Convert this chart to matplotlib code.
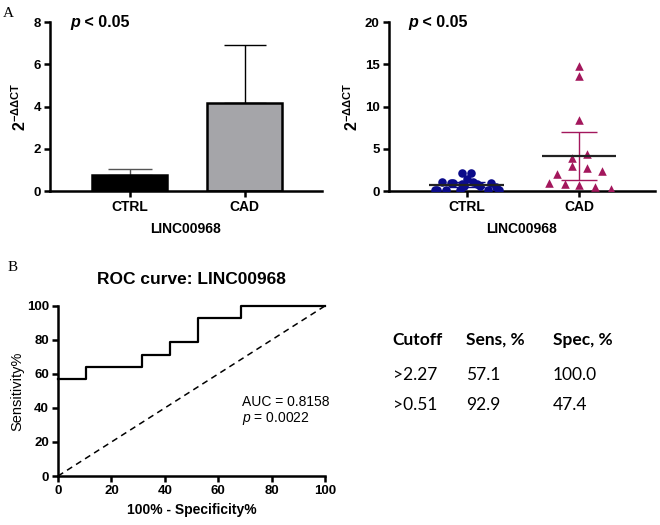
import numpy as np
import matplotlib
matplotlib.use('Agg')
from matplotlib import pyplot as plt

plt.rcParams['font.family'] = ['Liberation Sans', 'DejaVu Sans']
plt.rcParams['mathtext.fontset'] = 'custom'
plt.rcParams['mathtext.rm'] = 'Liberation Sans'
plt.rcParams['mathtext.it'] = 'Liberation Sans:italic'
plt.rcParams['mathtext.bf'] = 'Liberation Sans:bold'

# data
groups = ['CTRL', 'CAD']
bar_means = [0.75, 4.15]
bar_err = [0.3, 2.75]

ctrl_vals = [0.1, 0.1, 1.1, 0.1, 1.0, 0.9, 0.15, 0.8, 2.1, 0.6, 1.4, 2.1, 1.1, 0.8, 0.6, 0.1, 0.9, 0.5, 0.1]
ctrl_spread = [-0.28, -0.26, -0.22, -0.18, -0.14, -0.12, -0.06, -0.04, -0.04, -0.02, 0.0, 0.04, 0.06, 0.09, 0.12, 0.19, 0.22, 0.26, 0.29]
cad_vals = [14.8, 13.6, 8.4, 3.9, 4.4, 3.0, 2.7, 2.4, 2.0, 0.9, 0.8, 0.7, 0.5, 0.3]
cad_spread = [0.0, 0.0, 0.0, -0.06, 0.07, -0.06, 0.07, 0.2, -0.2, -0.27, -0.13, 0.0, 0.14, 0.28]
dot_means = [0.75, 4.15]
dot_err = [0.3, 2.8]

roc_fpr = [0, 10.5, 10.5, 31.6, 31.6, 42.1, 42.1, 52.6, 52.6, 68.4, 68.4, 100]
roc_tpr = [57.1, 57.1, 64.3, 64.3, 71.4, 71.4, 78.6, 78.6, 92.9, 92.9, 100, 100]
auc_txt = 'AUC = 0.8158'
p_txt = '0.0022'

table_head = ['Cutoff', 'Sens, %', 'Spec, %']
table_rows = [['>2.27', '57.1', '100.0'], ['>0.51', '92.9', '47.4']]

LW = 1.8
navy = '#0b0b8a'
berry = '#a3175c'


def style_axes(ax):
    for s in ['top', 'right']:
        ax.spines[s].set_visible(False)
    for s in ['left', 'bottom']:
        ax.spines[s].set_linewidth(LW)
    ax.tick_params(width=LW, length=4.5, labelsize=9.5, pad=2)
    for lab in ax.get_xticklabels() + ax.get_yticklabels():
        lab.set_fontweight('bold')


def p_label(ax):
    t = ax.text(0.074, 1.0, 'p', transform=ax.transAxes, fontsize=11.5,
                fontweight='bold', style='italic', va='center', ha='left')
    ax.annotate(' < 0.05', xy=(1, 0), xycoords=t, va='bottom', ha='left',
                fontsize=11.5, fontweight='bold')


fig = plt.figure(figsize=(6.6, 5.25), dpi=100)

# A left: bars
ax1 = fig.add_axes([0.0758, 0.636, 0.412, 0.322])
x = np.arange(len(groups))
ax1.bar(x, bar_means, width=0.65, color=['black', '#a5a5a9'], edgecolor='black', linewidth=LW, zorder=2)
ax1.errorbar(x[0], bar_means[0], yerr=[[0], [bar_err[0]]], fmt='none', ecolor='#555555',
             elinewidth=1.0, capsize=16, capthick=1.0, zorder=1)
ax1.errorbar(x[1], bar_means[1], yerr=[[0], [bar_err[1]]], fmt='none', ecolor='black',
             elinewidth=1.0, capsize=15, capthick=1.0, zorder=1)
ax1.set_xlim(-0.69, 1.67)
ax1.set_ylim(0, 8)
ax1.set_yticks([0, 2, 4, 6, 8])
ax1.set_xticks(x)
ax1.set_xticklabels(groups)
ax1.set_ylabel(r'$\mathbf{2^{-\Delta\Delta CT}}$', fontsize=11.5, labelpad=3)
ax1.set_xlabel('LINC00968', fontsize=10, fontweight='bold', labelpad=6)
style_axes(ax1)
for lab in ax1.get_xticklabels():
    lab.set_fontsize(10)
p_label(ax1)

# A right: dots
ax2 = fig.add_axes([0.589, 0.636, 0.403, 0.322])
ax2.scatter(x[0] + np.array(ctrl_spread), ctrl_vals, s=38, marker='o', color=navy, zorder=3, linewidths=0)
ax2.scatter(x[1] + np.array(cad_spread), cad_vals, s=38, marker='^', color=berry, zorder=3, linewidths=0)
for xi, m, e, c in zip(x, dot_means, dot_err, [navy, berry]):
    ax2.errorbar(xi, m, yerr=e, fmt='none', ecolor=c, elinewidth=1.0,
                 capsize=13, capthick=1.0, zorder=2)
ax2.hlines(dot_means, x - 0.33, x + 0.33, color='#222222', linewidth=1.6, zorder=4)
ax2.set_xlim(-0.69, 1.67)
ax2.set_ylim(0, 20)
ax2.set_yticks([0, 5, 10, 15, 20])
ax2.set_xticks(x)
ax2.set_xticklabels(groups)
ax2.set_ylabel(r'$\mathbf{2^{-\Delta\Delta CT}}$', fontsize=11.5, labelpad=3)
ax2.set_xlabel('LINC00968', fontsize=10, fontweight='bold', labelpad=6)
style_axes(ax2)
for lab in ax2.get_xticklabels():
    lab.set_fontsize(10)
p_label(ax2)

# B: ROC
ax3 = fig.add_axes([0.0879, 0.0933, 0.4045, 0.324])
ax3.plot(roc_fpr, roc_tpr, color='black', linewidth=1.6, clip_on=False, zorder=3)
ax3.plot([0, 100], [0, 100], color='black', linewidth=1.1, linestyle=(0, (4, 3)), zorder=2)
ax3.set_xlim(0, 100)
ax3.set_ylim(0, 100)
ax3.set_xticks(range(0, 101, 20))
ax3.set_yticks(range(0, 101, 20))
ax3.set_title('ROC curve: LINC00968', fontsize=12.5, fontweight='bold', pad=16)
ax3.set_xlabel('100% - Specificity%', fontsize=10, fontweight='bold', labelpad=4)
ax3.set_ylabel('Sensitivity%', fontsize=10.5, labelpad=2)
style_axes(ax3)
ax3.text(0.69, 0.38, auc_txt + '\n' + r'$p$ = ' + p_txt, transform=ax3.transAxes,
         fontsize=10, va='center', ha='left', linespacing=1.1)

# panel letters
fig.text(0.005, 0.975, 'A', family='Liberation Serif', fontsize=11, va='center')
fig.text(0.012, 0.49, 'B', family='Liberation Serif', fontsize=11, va='center')

# cutoff table
col_x = [0.595, 0.706, 0.838]
row_y = [0.353, 0.285, 0.228]
for cx, h in zip(col_x, table_head):
    fig.text(cx, row_y[0], h, family='Lato', fontweight='bold', fontsize=12.5, va='center')
for ry, row in zip(row_y[1:], table_rows):
    for cx, v in zip(col_x, row):
        fig.text(cx, ry, v, family='Lato', fontsize=12.5, va='center')

fig.savefig('out.png', dpi=100)
